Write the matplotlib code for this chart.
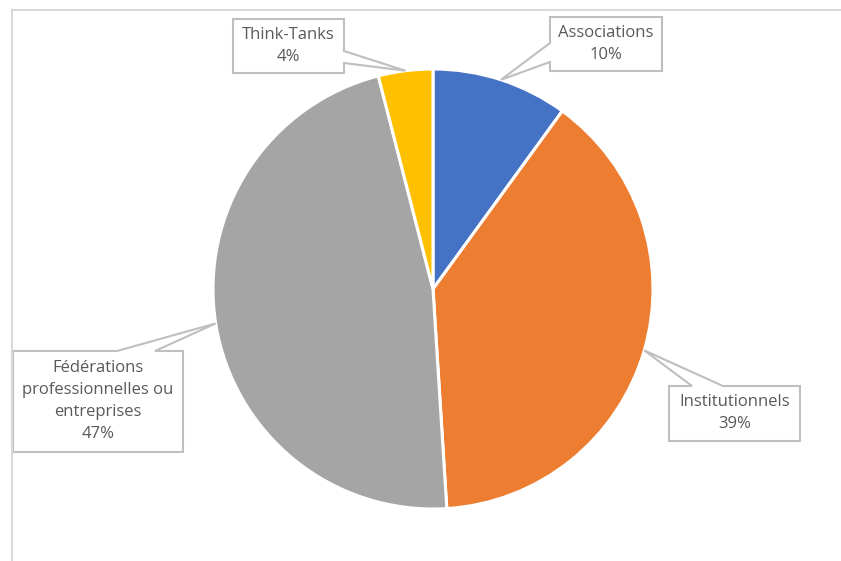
import numpy as np
import matplotlib
matplotlib.use("Agg")
import matplotlib.pyplot as plt
from matplotlib.patches import Polygon
from matplotlib.lines import Line2D

labels = ["Associations", "Institutionnels",
          "Fédérations\nprofessionnelles ou\nentreprises", "Think-Tanks"]
values = [10, 39, 47, 4]
pct_labels = ["10%", "39%", "47%", "4%"]
colors = ["#4472C4", "#ED7D31", "#A5A5A5", "#FFC000"]

W, H = 841, 561
fig = plt.figure(figsize=(W / 100, H / 100), dpi=100)
ax = fig.add_axes([0, 0, 1, 1])

cx, cy, R = 433, H - 289, 220
wedges, _ = ax.pie(values, colors=colors, startangle=90, counterclock=False,
                   center=(cx, cy), radius=R,
                   wedgeprops=dict(edgecolor="white", linewidth=2.2))
ax.set_xlim(0, W)
ax.set_ylim(0, H)
ax.set_aspect("equal")
ax.axis("off")

# callout boxes: (x0, y0, x1, y1) in pixels from top-left, pointer side and base span
boxes = [
    dict(box=(550, 17, 662, 71), side="left", base=(43, 62)),
    dict(box=(669, 386, 800, 441), side="top", base=(692, 723)),
    dict(box=(13, 351, 183, 452), side="top", base=(117, 155)),
    dict(box=(233, 19, 344, 73), side="right", base=(51, 63)),
]

edge_c = "#BFBFBF"
text_c = "#595959"

for w, b, lab, pct in zip(wedges, boxes, labels, pct_labels):
    th = np.deg2rad((w.theta1 + w.theta2) / 2)
    tip = (cx + R * np.cos(th), cy + R * np.sin(th))
    x0, y0, x1, y1 = b["box"]
    Y = lambda y: H - y
    if b["side"] == "top":
        a, c = b["base"]
        pts = [(x0, Y(y0)), (a, Y(y0)), tip, (c, Y(y0)), (x1, Y(y0)),
               (x1, Y(y1)), (x0, Y(y1))]
    elif b["side"] == "left":
        a, c = b["base"]
        pts = [(x0, Y(y0)), (x1, Y(y0)), (x1, Y(y1)), (x0, Y(y1)),
               (x0, Y(c)), tip, (x0, Y(a))]
    else:  # right
        a, c = b["base"]
        pts = [(x0, Y(y0)), (x1, Y(y0)), (x1, Y(a)), tip, (x1, Y(c)),
               (x1, Y(y1)), (x0, Y(y1))]
    ax.add_patch(Polygon(pts, closed=True, facecolor="white",
                         edgecolor=edge_c, linewidth=1.5, zorder=5))
    ax.text((x0 + x1) / 2, H - (y0 + y1) / 2, lab + "\n" + pct,
            ha="center", va="center", color=text_c, fontsize=12,
            family="Open Sans", linespacing=1.5, zorder=6)

# chart frame
frame_c = "#D9D9D9"
fig.add_artist(Line2D([12 / W, 12 / W], [0, 1 - 10 / H], transform=fig.transFigure,
                      color=frame_c, linewidth=1.5))
fig.add_artist(Line2D([12 / W, 1], [1 - 10 / H, 1 - 10 / H], transform=fig.transFigure,
                      color=frame_c, linewidth=1.5))

fig.savefig("out.png", dpi=100)
